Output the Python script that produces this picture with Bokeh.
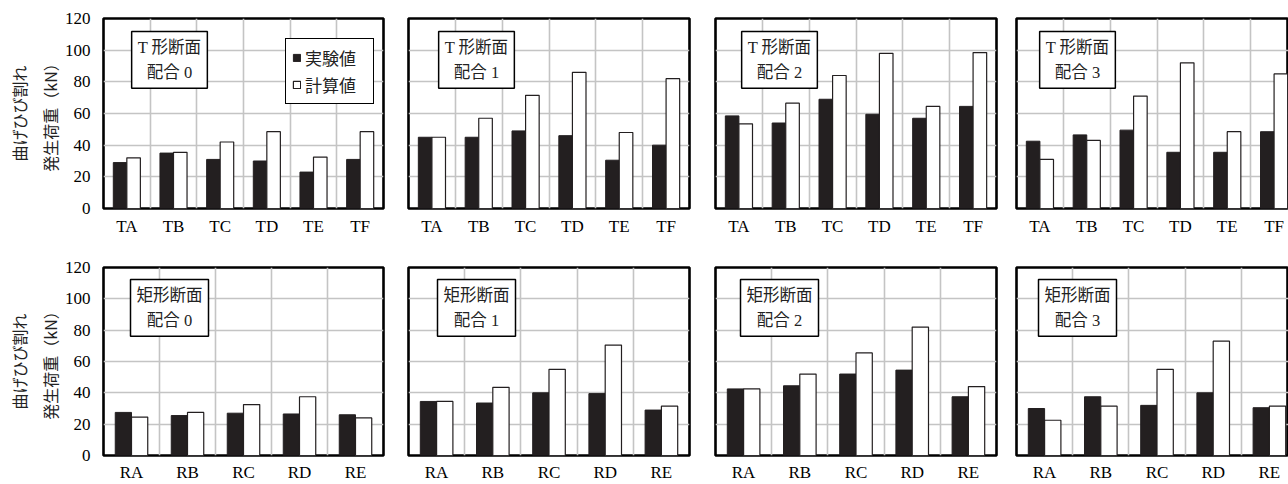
from bokeh.plotting import figure
from bokeh.layouts import column, row
from bokeh.models import ColumnDataSource, FixedTicker, Range1d, Label
from bokeh.transform import dodge
from bokeh.embed import file_html
from bokeh.resources import INLINE

# ---------------- data ----------------
t_cats = ["TA", "TB", "TC", "TD", "TE", "TF"]
r_cats = ["RA", "RB", "RC", "RD", "RE"]
mixes = ["0", "1", "2", "3"]

t_exp = [
    [29, 35, 31, 30, 23, 31],
    [45, 45, 49, 46, 30.5, 40],
    [58.5, 54, 69, 59.5, 57, 64.5],
    [42.5, 46.5, 49.5, 35.5, 35.5, 48.5],
]
t_calc = [
    [32, 35.5, 42, 48.5, 32.5, 48.5],
    [45, 57, 71.5, 86, 48, 82],
    [53.5, 66.5, 84, 98, 64.5, 98.5],
    [31, 43, 71, 92, 48.5, 85],
]
r_exp = [
    [27.5, 25.5, 27, 26.5, 26],
    [34.5, 33.5, 40, 39.5, 29],
    [42.5, 44.5, 52, 54.5, 37.5],
    [30, 37.5, 32, 40, 30.5],
]
r_calc = [
    [24.5, 27.5, 32.5, 37.5, 24],
    [34.5, 43.5, 55, 70.5, 31.5],
    [42.5, 52, 65.5, 82, 44],
    [22.5, 31.5, 55, 73, 31.5],
]
y_ticks = [0, 20, 40, 60, 80, 100, 120]
legend_labels = ["実験値", "計算値"]
t_title = "T 形断面"
r_title = "矩形断面"
mix_prefix = "配合 "
y_label = "曲げひび割れ\n発生荷重（kN）"

# ---------------- layout ----------------
WIDTHS = [395, 307, 304, 282]
LEFT = [103, 13, 13, 10]
RIGHT = [12, 13, 10, 0]
FULL_FRAME = 281
SERIF = "Liberation Serif"
CJK = "Noto Sans CJK JP"
BOX_FONT = "Liberation Serif, Noto Sans CJK JP"
BOX_CX = [66, 68, 64, 61]
BLACK = "#231f20"
GRID = "#c4c4c4"


def panel(i, cats, exp, calc, title, top_row):
    n = len(cats)
    if top_row:
        h, bt, bb, std = 250, 18, 42, 8
    else:
        h, bt, bb, std = 234, 17, 28, 7
    frame_w = WIDTHS[i] - LEFT[i] - RIGHT[i]
    frame_h = h - bt - bb
    x_end = n * frame_w / FULL_FRAME if i == 3 else n
    p = figure(width=WIDTHS[i], height=h, output_backend="svg", toolbar_location=None,
               x_range=Range1d(0, x_end), y_range=Range1d(0, 120),
               min_border_left=LEFT[i], min_border_right=RIGHT[i],
               min_border_top=bt, min_border_bottom=bb)
    xs = [k + 0.5 for k in range(n)]
    src = ColumnDataSource(dict(x=xs, exp=exp, calc=calc))
    kw_e = dict(legend_label=legend_labels[0]) if (i == 0 and top_row) else {}
    kw_c = dict(legend_label=legend_labels[1]) if (i == 0 and top_row) else {}
    p.vbar(x=dodge("x", -0.145), top="exp", width=0.29, source=src,
           fill_color=BLACK, line_color=BLACK, line_width=1, **kw_e)
    p.vbar(x=dodge("x", 0.145), top="calc", width=0.29, source=src,
           fill_color="white", line_color=BLACK, line_width=1.2, **kw_c)

    p.outline_line_color = "black"
    p.outline_line_width = 2.6
    p.outline_line_alpha = 1.0
    p.background_fill_color = "white"
    p.border_fill_color = "white"

    p.xgrid.ticker = FixedTicker(ticks=list(range(1, n)))
    p.ygrid.ticker = FixedTicker(ticks=y_ticks[1:-1])
    for g in (p.xgrid, p.ygrid):
        g.grid_line_color = GRID
        g.grid_line_width = 1.6
        g.grid_line_alpha = 1.0

    ax = p.xaxis[0]
    ax.ticker = FixedTicker(ticks=xs)
    ax.major_label_overrides = {x: c for x, c in zip(xs, cats)}
    ax.major_label_text_font = SERIF
    ax.major_label_text_font_size = "17px"
    ax.major_label_text_color = "black"
    ax.major_label_standoff = std
    ax.axis_line_color = None
    ax.major_tick_line_color = None
    ax.minor_tick_line_color = None
    ax.major_tick_out = 0
    ax.major_tick_in = 0
    ax.minor_tick_out = 0

    ay = p.yaxis[0]
    ay.ticker = FixedTicker(ticks=y_ticks)
    if i == 0:
        ay.major_label_text_font = SERIF
        ay.major_label_text_font_size = "17px"
        ay.major_label_text_color = "black"
        ay.major_label_standoff = 13
        ay.axis_line_color = None
        ay.major_tick_line_color = None
        ay.minor_tick_line_color = None
        ay.major_tick_out = 0
        ay.major_tick_in = 0
        ay.minor_tick_out = 0
        ay.axis_label = y_label
        ay.axis_label_text_font = CJK
        ay.axis_label_text_font_size = "16px"
        ay.axis_label_text_font_style = "normal"
        ay.axis_label_text_color = "#222222"
        ay.axis_label_text_line_height = 1.3
        ay.axis_label_standoff = 0
    else:
        ay.visible = False

    p.add_layout(Label(x=BOX_CX[i], y=frame_h - 13, x_units="screen", y_units="screen",
                       text=title + "\n" + mix_prefix + mixes[i],
                       text_font=BOX_FONT, text_font_size="16.5px", text_color="#222222",
                       text_align="center", text_baseline="top", text_line_height=1.35,
                       border_line_color="black", border_line_width=1.5,
                       background_fill_color="white", background_fill_alpha=1.0,
                       padding=6))

    if i == 0 and top_row:
        lg = p.legend[0]
        lg.location = (182, 104)
        lg.label_text_font = CJK
        lg.label_text_font_size = "17px"
        lg.label_text_color = "#222222"
        lg.border_line_color = "black"
        lg.border_line_width = 1.5
        lg.border_line_alpha = 1.0
        lg.glyph_width = 9
        lg.glyph_height = 9
        lg.label_standoff = 4
        lg.label_width = 62
        lg.label_height = 20
        lg.spacing = 2
        lg.padding = 6
        lg.margin = 0
        lg.background_fill_alpha = 1.0
    return p


top = [panel(i, t_cats, t_exp[i], t_calc[i], t_title, True) for i in range(4)]
bot = [panel(i, r_cats, r_exp[i], r_calc[i], r_title, False) for i in range(4)]
layout = column(row(*top), row(*bot))

open("out.html", "w").write(file_html(layout, INLINE))
